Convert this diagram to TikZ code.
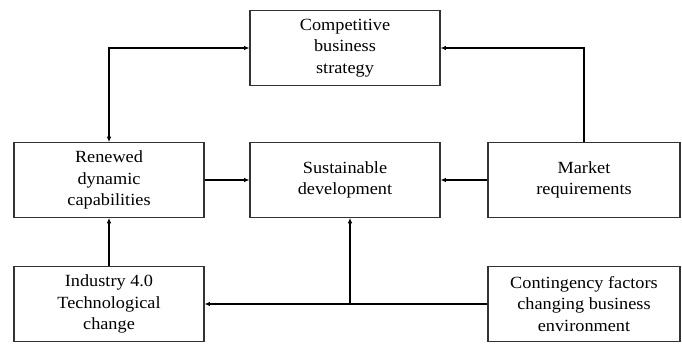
\documentclass[tikz,border=0pt]{standalone}
\usepackage{fontspec}
\setmainfont[FakeStretch=1.07]{Liberation Serif}
\usetikzlibrary{arrows.meta}
\begin{document}
\begin{tikzpicture}[x=0.75pt,y=-0.75pt,
  box/.style={draw=black!80,line width=0.9pt,minimum width=142.5pt,minimum height=56pt,align=center,font=\fontsize{12.8}{16.2}\selectfont,inner sep=0pt},
  arr/.style={line width=0.8pt,-{Latex[length=4pt,width=3.5pt]}},
  ln/.style={line width=0.8pt}]
\useasboundingbox (0,0) rectangle (682,343);
\node[box] (comp) at (345,48) {Competitive\\business\\strategy};
\node[box] (renew) at (109,180) {Renewed\\dynamic\\capabilities};
\node[box] (sust) at (345,180) {Sustainable\\development};
\node[box,minimum width=144pt] (market) at (584,180) {Market\\requirements};
\node[box] (ind) at (109,304) {Industry 4.0\\Technological\\change};
\node[box,minimum width=144pt] (cont) at (584,304) {Contingency factors\\changing business\\environment};
\coordinate (j) at (350,304);
\draw[line width=0.8pt,{Latex[length=4pt,width=3.5pt]}-{Latex[length=4pt,width=3.5pt]}] (comp.west) -| (renew.north);
\draw[arr] (market.north) |- (comp.east);
\draw[arr] (renew.east) -- (sust.west);
\draw[arr] (market.west) -- (sust.east);
\draw[arr] (ind.north) -- (renew.south);
\draw[arr] (cont.west) -- (ind.east);
\draw[arr] (j) -- (j |- sust.south);
\end{tikzpicture}
\end{document}
